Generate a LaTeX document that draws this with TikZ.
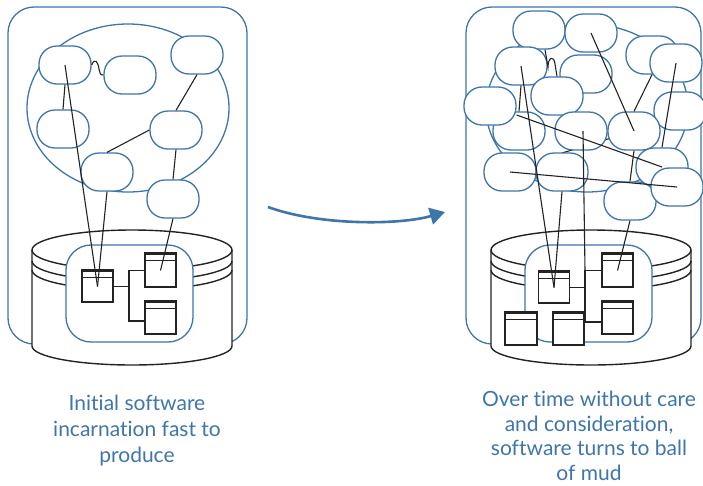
\documentclass[tikz,border=0pt]{standalone}
\usepackage{fontspec}
\setmainfont{Lato}[Ligatures=NoCommon]
\usetikzlibrary{arrows.meta}
\definecolor{mblue}{RGB}{62,117,170}
\definecolor{ink}{RGB}{35,35,35}
\begin{document}
\begin{tikzpicture}[x=1pt,y=-1pt,
  bub/.style={draw=mblue,line width=1.3pt,fill=white,rounded corners=18pt,minimum width=52pt,minimum height=38pt,inner sep=0pt},
  umlbox/.style={draw=ink,line width=1.3pt,fill=white,minimum width=31pt,minimum height=31pt,inner sep=0pt},
  ln/.style={ink,line width=1.1pt},
  cyl/.style={ink,line width=1.4pt},
  outerframe/.style={draw=mblue,line width=1.3pt,rounded corners=26pt},
  innerframe/.style={draw=mblue,line width=1.3pt,fill=white,rounded corners=25pt},
  blob/.style={mblue,line width=1.3pt},
  lbl/.style={text=mblue,align=center,inner sep=0pt,font=\fontsize{21}{24.5}\selectfont}]
\useasboundingbox (0,0) rectangle (703,485);

% ---------- outer frames ----------
\draw[outerframe] (8,7) rectangle (247,344);
\draw[outerframe] (466,7) rectangle (701,344);

% ---------- cloud ellipses ----------
\draw[blob] (128,108) ellipse [x radius=101pt,y radius=84pt];
\draw[blob] (587,108) ellipse [x radius=101pt,y radius=84pt];

% ---------- cylinders with inner frames ----------
\foreach \dx in {0,459} {
\begin{scope}[xshift=\dx pt]
  \fill[white] (32,250) rectangle (232,346);
  \fill[white] (132,250) ellipse [x radius=100pt,y radius=20pt];
  \fill[white] (132,346) ellipse [x radius=100pt,y radius=19pt];
  \draw[cyl] (132,250) ellipse [x radius=100pt,y radius=20pt];
  \draw[cyl] (32,261) arc [start angle=180,end angle=360,x radius=100pt,y radius=20pt];
  \draw[cyl] (32,270) arc [start angle=180,end angle=360,x radius=100pt,y radius=20pt];
  \draw[cyl] (32,250) -- (32,346) arc [start angle=180,end angle=360,x radius=100pt,y radius=19pt] -- (232,250);
  \draw[innerframe] (66,245) rectangle (193,342);
\end{scope}
}

% ---------- left: boxes ----------
\node[umlbox] (b1) at (97.5,286.5) {};
\node[umlbox,minimum height=33pt] (b2) at (160.5,270.5) {};
\node[umlbox,minimum height=32pt] (b3) at (160.5,318) {};
\coordinate (lt) at (129,0);
\draw[ln] (b1.east) -- (b1.east -| lt);
\draw[ln] (b2.west) -- (b2.west -| lt) -- ([yshift=-3pt]b3.west -| lt) -- ([yshift=-3pt]b3.west);

% ---------- right: boxes ----------
\node[umlbox] (rb1) at (554,287.5) {};
\node[umlbox,minimum height=33pt] (rb2) at (617.5,270.5) {};
\node[umlbox,minimum height=32pt] (rb3) at (617.5,318) {};
\coordinate (rt) at (585,0);
\draw[ln] (rb1.east) -- (rb1.east -| rt);
\draw[ln] (rb2.west) -- (rb2.west -| rt) -- ([yshift=-4pt]rb3.west -| rt) -- ([yshift=-4pt]rb3.west);
\node[umlbox,minimum width=32pt,minimum height=32pt] (rb4) at (521,329) {};
\node[umlbox,minimum height=32pt] (rb5) at (568.5,329) {};

\foreach \b in {b1,b2,b3,rb1,rb2,rb3,rb4,rb5} {
  \draw[ink,line width=2pt] (\b.north west) -- (\b.north east);
  \draw[ink,line width=1.1pt] ([yshift=-7.5pt]\b.north west) -- ([yshift=-7.5pt]\b.north east);
}

% ---------- left: components ----------
\node[bub] (A) at (65,65) {};
\node[bub] (B) at (130,75) {};
\node[bub] (C) at (197,55) {};
\node[bub] (D) at (63,129) {};
\node[bub] (E) at (176,130) {};
\node[bub] (F) at (107,172) {};
\node[bub] (G) at (173,199) {};

\draw[ln] (A.center) -- (b1.center);
\draw[ln] (F.south) -- (b1.center);
\draw[ln] (A.south) -- (D.north);
\draw[ln] (C.south) -- (E.north);
\draw[ln] (E.west) -- (F.north);
\draw[ln] (E.south) -- (G.north);
\draw[ln] (G.south) -- (b2.center);
\draw[ln] (A.east) .. controls (95,57) and (98,62) .. (99,69) .. controls (100,75) and (102,76) .. (B.west);

% ---------- right: components ----------
\draw[ln] (634,131) -- (562,153);
\node[bub] (R1) at (539,30) {};
\node[bub] (R2) at (591,33) {};
\node[bub] (R6) at (586,74) {};
\node[bub] (R5) at (521,66) {};
\node[bub] (R7) at (557,96) {};
\node[bub] (R3) at (652,55) {};
\node[bub] (R4) at (676,63) {};
\node[bub] (R9) at (680,111) {};
\node[bub] (R10) at (519,131) {};
\node[bub] (R8) at (490,106) {};
\node[bub] (R11) at (581,131) {};
\node[bub] (R12) at (634,131) {};
\node[bub] (R14) at (510,172) {};
\node[bub] (R15) at (562,172) {};
\node[bub] (R17) at (630,201) {};
\node[bub] (R13) at (662,167) {};
\node[bub] (R16) at (677,187) {};

\draw[ln] (R2.center) -- (R12.center);
\draw[ln] (R3.south) -- (R12.north);
\draw[ln] (R4.center) -- (R13.north);
\draw[ln] (R5.center) -- (rb1.center);
\draw[ln] (R5.south) -- (R10.north);
\draw[ln] ([yshift=-9pt]R8.east) -- (R13.center);
\draw[ln] (R14.center) -- (R16.center);
\draw[ln] (R15.south) -- (rb1.center);
\draw[ln] ([xshift=2pt]R11.center) -- (rb2.west -| rt);
\draw[ln] (R12.south) -- (R17.north);
\draw[ln] (R17.south) -- (rb2.center);
\draw[ln] ([xshift=6pt]R1.south) -- (548,67) .. controls (548,57) and (554,55) .. (555,64) -- (R7.north);

% ---------- arrow ----------
\coordinate (as) at (268,207);
\coordinate (ae) at (445,212);
\draw[mblue,line width=2.6pt,-{Triangle[length=15pt,width=17pt]}] (as) .. controls (320,226) and (400,225) .. (ae);

% ---------- captions ----------
\node[lbl,anchor=north,font=\fontsize{21}{26.2}\selectfont] (t1) at (137,394.5) {Initial software\\incarnation fast to\\produce};
\node[lbl,anchor=north] (t2) at (589,391) {Over time without care\\and consideration,\\software turns to ball\\of mud};
\end{tikzpicture}
\end{document}
